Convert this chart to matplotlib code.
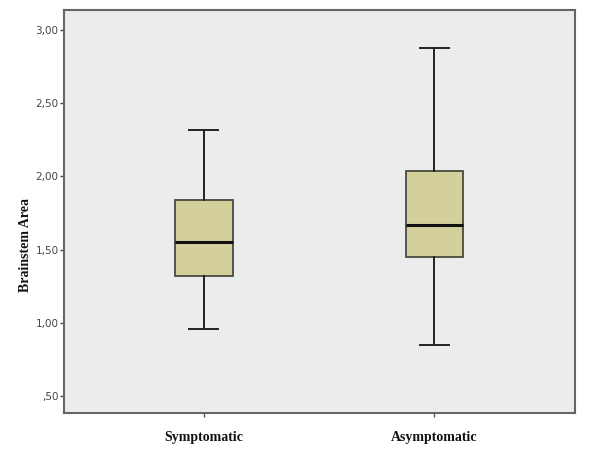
import matplotlib.pyplot as plt
from matplotlib.ticker import FuncFormatter

groups = ['Symptomatic', 'Asymptomatic']
whisker_low = [0.96, 0.85]
q1 = [1.32, 1.45]
median = [1.55, 1.67]
q3 = [1.84, 2.04]
whisker_high = [2.32, 2.88]

yticks = [0.5, 1.0, 1.5, 2.0, 2.5, 3.0]

stats = []
for i, g in enumerate(groups):
    stats.append({'label': g, 'whislo': whisker_low[i], 'q1': q1[i], 'med': median[i],
                  'q3': q3[i], 'whishi': whisker_high[i], 'fliers': []})

fig = plt.figure(figsize=(5.89, 4.5), dpi=100)
ax = fig.add_axes([0.1087, 0.0822, 0.8676, 0.8956])
ax.set_facecolor('#eaedeb')

ax.bxp(stats, positions=[1, 2], widths=0.25, capwidths=0.126, patch_artist=True,
       boxprops=dict(facecolor='#d4d09b', edgecolor='#4a4a40', linewidth=1.3),
       medianprops=dict(color='#111111', linewidth=2.2),
       whiskerprops=dict(color='#222222', linewidth=1.4),
       capprops=dict(color='#222222', linewidth=1.4),
       showfliers=False)

ax.set_xlim(0.393, 2.61)
ax.set_ylim(0.384, 3.137)
ax.set_yticks(yticks)

def fmt(v, pos):
    s = '%.2f' % v
    s = s.replace('.', ',')
    if s.startswith('0'):
        s = s[1:]
    return s

ax.yaxis.set_major_formatter(FuncFormatter(fmt))
ax.tick_params(axis='y', labelsize=7.5, colors='#444444', length=3, width=1, pad=1)
ax.tick_params(axis='x', length=3, width=1, colors='#555555', pad=10)
for lab in ax.get_xticklabels():
    lab.set_fontfamily('Liberation Serif')
    lab.set_fontweight('bold')
    lab.set_fontsize(10)
    lab.set_color('#111111')

ax.set_ylabel('Brainstem Area', fontfamily='Liberation Serif', fontweight='bold',
              fontsize=10, color='#111111')
ax.yaxis.set_label_coords(-0.062, 0.417)

for sp in ax.spines.values():
    sp.set_color('#666666')
    sp.set_linewidth(1.5)

fig.savefig('out.png', dpi=100, facecolor='white')
